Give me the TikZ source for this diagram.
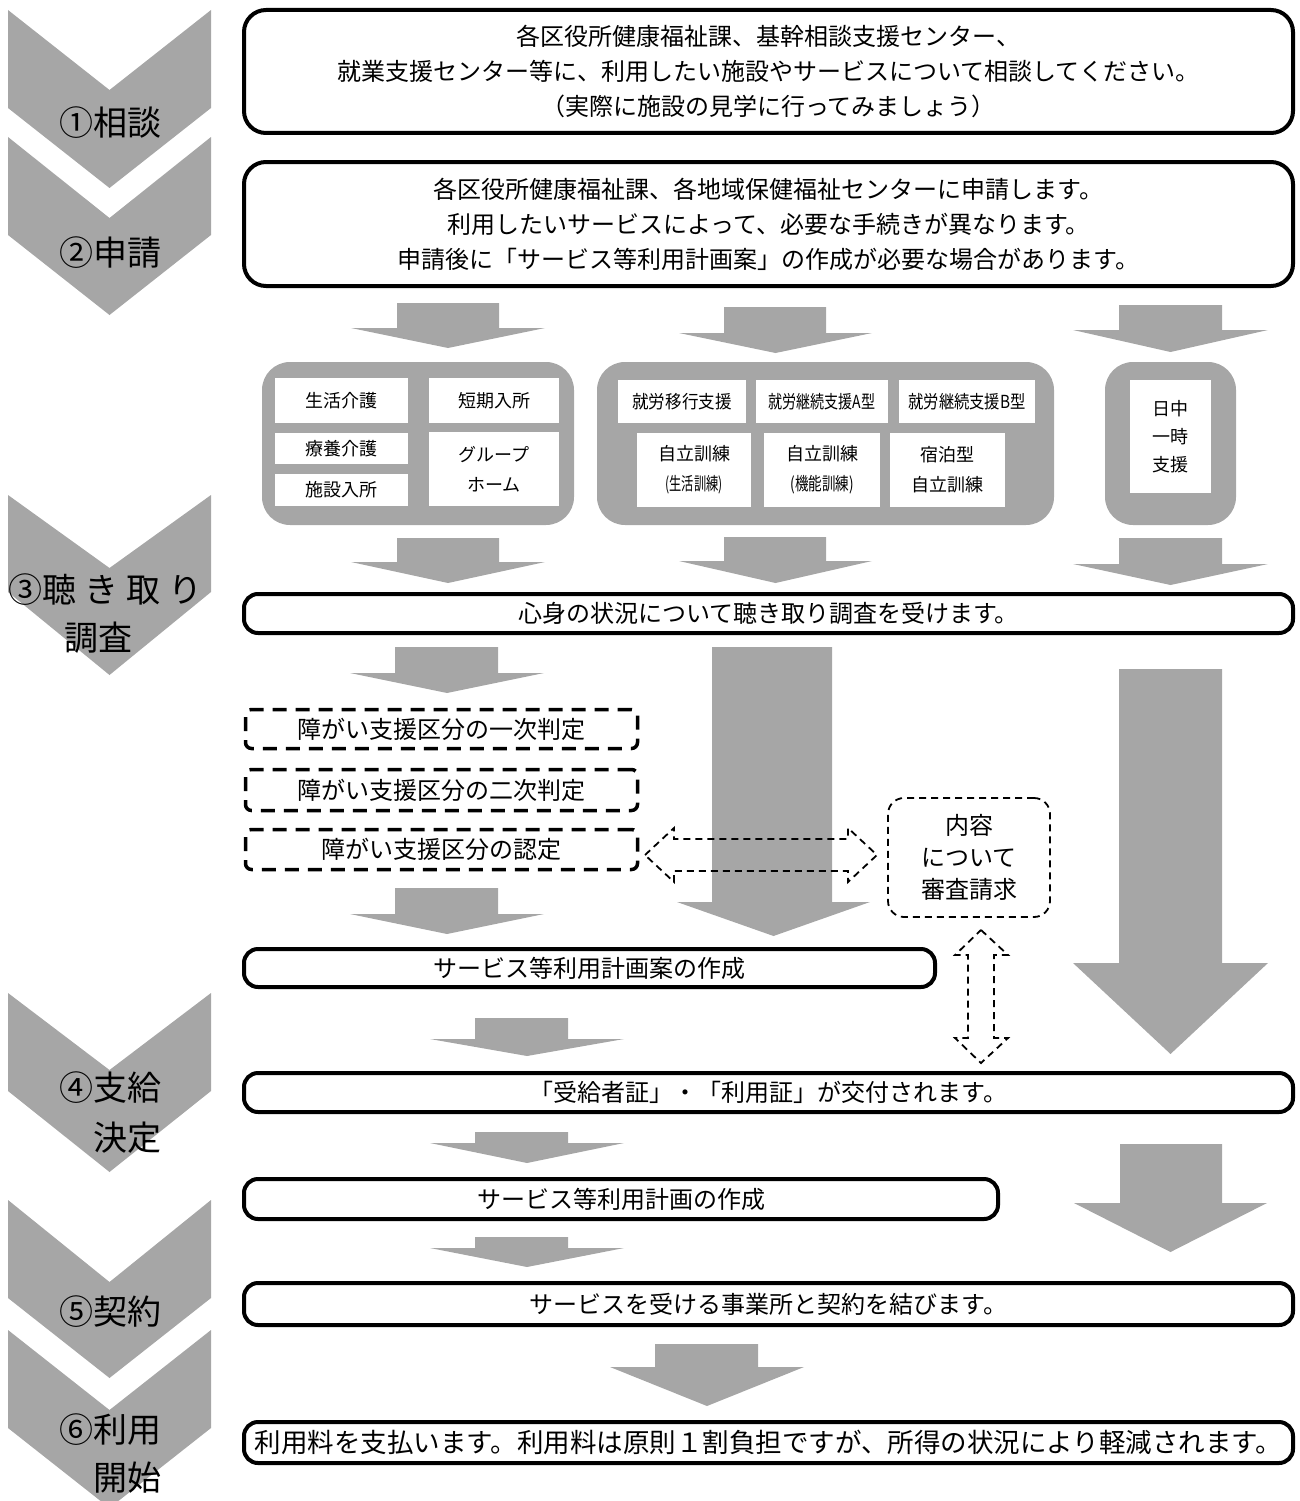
\documentclass[tikz,border=0pt]{standalone}
\usepackage{fontspec}
\setmainfont{Noto Sans CJK JP}
\usepackage{graphicx}
\definecolor{arrgray}{RGB}{166,166,166}
% block arrow: shaft xL, shaft xR, head xL, head xR, y top, y head start, y tip
\newcommand\grayarrow[7]{\fill[arrgray] (#1,#5) -- (#2,#5) -- (#2,#6) -- (#4,#6) -- ({(#3+#4)/2},#7) -- (#3,#6) -- (#1,#6) -- cycle;}
% chevron: top y, notch depth, side depth, tip depth
\newcommand\chevronshape[4]{\fill[arrgray] (8,#1) -- (109.5,#1+#2) -- (211,#1) -- (211,#1+#3) -- (109.5,#1+#4) -- (8,#1+#3) -- cycle;}
% box node from outer corners: [adjust]{name}{style}{x1}{y1}{x2}{y2}{text}
\newcommand\bx[8][0]{%
  \pgfmathsetmacro\bxw{#6-#4-#1}\pgfmathsetmacro\bxh{#7-#5-#1}%
  \node[#3, minimum width=\bxw pt, minimum height=\bxh pt, inner sep=0pt] (#2) at ({(#4+#6)/2},{(#5+#7)/2}) {#8};}
\tikzset{
  tbox/.style={draw=black, line width=4pt, fill=white, rounded corners=14pt, align=center, font=\fontsize{24}{35}\selectfont},
  dbox/.style={draw=black, line width=3.5pt, dash pattern=on 14pt off 9pt, rounded corners=6pt, align=center, font=\fontsize{24}{35}\selectfont},
  sbox/.style={draw=black, line width=1.8pt, dash pattern=on 7pt off 5pt, rounded corners=16pt, align=center, font=\fontsize{24}{32}\selectfont},
  grp/.style={fill=arrgray, rounded corners=28pt},
  wbox/.style={fill=white, align=center, font=\fontsize{18}{30}\selectfont},
  ctext/.style={font=\fontsize{34}{40}\selectfont, inner sep=0pt},
  darrow/.style={draw=black, line width=1.8pt, dash pattern=on 7pt off 5pt}
}
\begin{document}
\begin{tikzpicture}[x=1pt, y=-1pt]
\useasboundingbox (0,0) rectangle (1300,1501);
% chevrons
\chevronshape{10}{80}{98}{178}
\chevronshape{137}{81}{98}{178}
\chevronshape{495}{73}{97}{180}
\chevronshape{993}{77}{98}{179}
\chevronshape{1200}{82}{98}{178}
\chevronshape{1330}{80}{98}{178}
\node[ctext] (l1) at (110,123) {①相談};
\node[ctext] (l2) at (110,253) {②申請};
\node[ctext] (l3a) at (106,590) {③聴\hspace{8pt}き\hspace{8pt}取\hspace{8pt}り};
\node[ctext] (l3b) at (98,638) {調査};
\node[ctext] (l4a) at (110,1088) {④支給};
\node[ctext, anchor=east] (l4b) at (162,1138) {決定};
\node[ctext] (l5) at (110,1312) {⑤契約};
\node[ctext] (l6a) at (110,1430) {⑥利用};
\node[ctext, anchor=east] (l6b) at (162,1478) {開始};
% gray block arrows
\grayarrow{397}{499}{351}{545}{303}{328}{348}
\grayarrow{724}{826}{679}{872}{307}{333}{353}
\grayarrow{1119}{1222}{1073}{1268}{305}{330}{352}
\grayarrow{397}{499}{351}{545}{538}{562}{583}
\grayarrow{724}{826}{679}{872}{537}{561}{583}
\grayarrow{1119}{1222}{1073}{1268}{538}{564}{585}
\grayarrow{395}{498}{350}{544}{647}{673}{693}
\grayarrow{712}{832}{677}{870}{647}{902}{936}
\grayarrow{395}{498}{350}{544}{888}{914}{934}
\grayarrow{1119}{1222}{1073}{1268}{669}{963}{1054}
\grayarrow{475}{568}{430}{624}{1018}{1039}{1056}
\grayarrow{475}{568}{430}{624}{1132}{1143}{1163}
\grayarrow{475}{568}{430}{624}{1237}{1248}{1267}
\grayarrow{1120}{1222}{1074}{1267}{1144}{1203}{1252}
\grayarrow{655}{758}{610}{804}{1344}{1367}{1406}
% main boxes
\bx[4]{b1}{tbox, rounded corners=22pt}{242}{8}{1295}{135}{各区役所健康福祉課、基幹相談支援センター、\\就業支援センター等に、利用したい施設やサービスについて相談してください。\\（実際に施設の見学に行ってみましょう）}
\bx[4]{b2}{tbox, rounded corners=22pt}{242}{160}{1295}{288}{各区役所健康福祉課、各地域保健福祉センターに申請します。\\利用したいサービスによって、必要な手続きが異なります。\\申請後に「サービス等利用計画案」の作成が必要な場合があります。}
% service groups
\bx{g1}{grp}{262}{362}{574}{525}{}
\bx{g2}{grp}{597}{362}{1054}{525}{}
\bx{g3}{grp}{1105}{362}{1236}{525}{}
\bx{s1}{wbox}{275}{378}{408}{423}{生活介護}
\bx{s2}{wbox}{275}{433}{408}{464}{療養介護}
\bx{s3}{wbox}{275}{474}{408}{506}{施設入所}
\bx{s4}{wbox}{429}{378}{559}{423}{短期入所}
\bx{s5}{wbox}{429}{432}{559}{506}{グループ\\ホーム}
\bx{w1}{wbox}{618}{380}{746}{423}{\scalebox{0.92}[1]{就労移行支援}}
\bx{w2}{wbox}{756}{380}{888}{423}{\scalebox{0.78}[1]{就労継続支援A型}}
\bx{w3}{wbox}{899}{380}{1035}{423}{\scalebox{0.85}[1]{就労継続支援B型}}
\bx{w4}{wbox}{637}{433}{751}{507}{自立訓練\\\scalebox{0.68}[1]{(生活訓練)}}
\bx{w5}{wbox}{764}{433}{880}{507}{自立訓練\\\scalebox{0.75}[1]{(機能訓練)}}
\bx{w6}{wbox}{890}{433}{1005}{507}{宿泊型\\自立訓練}
\bx{n1}{wbox, font=\fontsize{18}{28}\selectfont}{1130}{380}{1211}{493}{日中\\一時\\支援}
% hearing
\bx[4]{b3}{tbox}{242}{592}{1295}{635}{心身の状況について聴き取り調査を受けます。}
\bx[3]{d1}{dbox}{244}{708}{639}{750}{障がい支援区分の一次判定}
\bx[3]{d2}{dbox}{244}{768}{639}{812}{障がい支援区分の二次判定}
\bx[3]{d3}{dbox}{244}{828}{639}{871}{障がい支援区分の認定}
\bx[2]{sh}{sbox}{887}{797}{1051}{918}{内容\\について\\審査請求}
% dashed double arrows
\draw[darrow] (645,855) -- (674,828) -- (674,839) -- (848,839) -- (848,828) -- (877,855) -- (848,882) -- (848,871) -- (674,871) -- (674,882) -- cycle;
\draw[darrow] (981,930) -- (1008,955) -- (994,955) -- (994,1038) -- (1008,1038) -- (981,1063) -- (955,1038) -- (968,1038) -- (968,955) -- (955,955) -- cycle;
% later steps
\bx[4]{b4}{tbox}{242}{947}{937}{989}{サービス等利用計画案の作成}
\bx[4]{b5}{tbox}{242}{1071}{1295}{1114}{「受給者証」・「利用証」が交付されます。}
\bx[4]{b6}{tbox}{242}{1177}{1000}{1221}{サービス等利用計画の作成}
\bx[4]{b7}{tbox}{242}{1281}{1295}{1327}{サービスを受ける事業所と契約を結びます。}
\bx[4]{b8}{tbox, font=\fontsize{26.5}{30}\selectfont}{242}{1420}{1295}{1465}{利用料を支払います。利用料は原則１割負担ですが、所得の状況により軽減されます。}
\end{tikzpicture}
\end{document}
